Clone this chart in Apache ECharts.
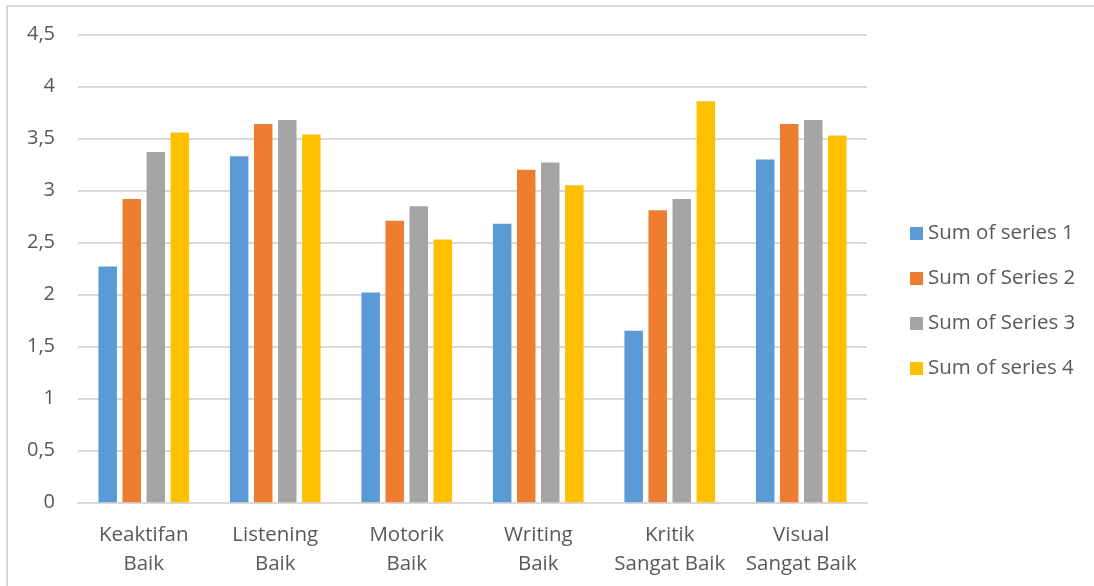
<!DOCTYPE html>
<html>
<head>
<meta charset="utf-8">
<script src="https://cdn.jsdelivr.net/npm/echarts@6/dist/echarts.min.js"></script>
<style>html,body{margin:0;padding:0;background:#fff}#c{width:1094px;height:586px}</style>
</head>
<body>
<div id="c"></div>
<script>
var categories = ['Keaktifan\nBaik', 'Listening\nBaik', 'Motorik\nBaik', 'Writing\nBaik', 'Kritik\nSangat Baik', 'Visual\nSangat Baik'];
var seriesNames = ['Sum of series 1', 'Sum of Series 2', 'Sum of Series 3', 'Sum of series 4'];
var series1 = [2.27, 3.33, 2.02, 2.68, 1.65, 3.30];
var series2 = [2.92, 3.64, 2.71, 3.20, 2.81, 3.64];
var series3 = [3.37, 3.68, 2.85, 3.27, 2.92, 3.68];
var series4 = [3.56, 3.54, 2.53, 3.05, 3.86, 3.53];
var colors = ['#5B9BD5', '#ED7D31', '#A5A5A5', '#FFC000'];

var font = '"Open Sans", "Noto Sans", sans-serif';
var chart = echarts.init(document.getElementById('c'), null, {renderer: 'canvas'});
var data = [series1, series2, series3, series4];
chart.setOption({
  animation: false,
  color: colors,
  textStyle: {fontFamily: font},
  graphic: [{
    type: 'polyline',
    shape: {points: [[7, 586], [7, 6], [1094, 6]]},
    style: {stroke: '#d9d9d9', lineWidth: 2, fill: null}
  }],
  grid: {left: 78, right: 227, top: 34.7, bottom: 83.7, containLabel: false},
  legend: {
    orient: 'vertical',
    left: 905,
    top: 218,
    itemWidth: 13,
    itemHeight: 13,
    itemGap: 24,
    icon: 'rect',
    textStyle: {fontSize: 20.5, color: '#595959', fontFamily: font, lineHeight: 20},
    data: seriesNames
  },
  xAxis: {
    type: 'category',
    data: categories,
    axisLine: {lineStyle: {color: '#d9d9d9', width: 2}},
    axisTick: {show: false},
    axisLabel: {interval: 0, fontSize: 20.5, color: '#595959', lineHeight: 29, margin: 18, fontFamily: font}
  },
  yAxis: {
    type: 'value',
    min: 0, max: 4.5, interval: 0.5,
    axisLine: {show: false},
    axisTick: {show: false},
    splitLine: {lineStyle: {color: '#d9d9d9', width: 2}},
    axisLabel: {fontSize: 20, color: '#595959', margin: 23, fontFamily: font,
      formatter: function (v) { return String(v).replace('.', ','); }}
  },
  series: seriesNames.map(function (n, i) {
    return {
      name: n, type: 'bar', data: data[i],
      barWidth: 18.5, barGap: '30%',
      itemStyle: {color: colors[i]}
    };
  })
});
</script>
</body>
</html>
